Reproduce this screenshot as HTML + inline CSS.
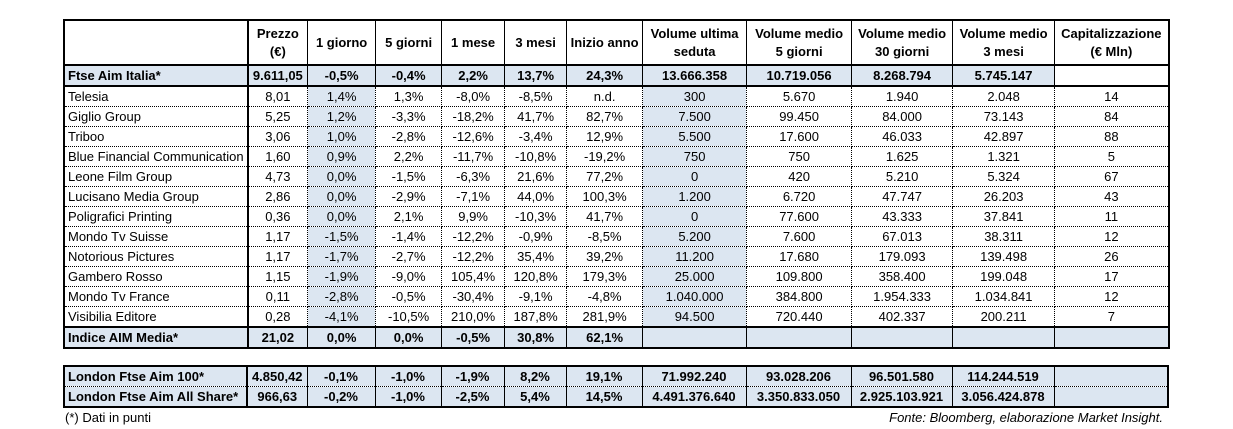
<!DOCTYPE html>
<html><head><meta charset="utf-8">
<style>
html,body{margin:0;padding:0;background:#fff;width:1233px;height:429px;overflow:hidden;position:relative;font-family:"Liberation Sans",Arial,sans-serif;font-size:13px;color:#000}
table{position:absolute;left:63px;border-collapse:collapse;table-layout:fixed}
td{padding:0 3px;height:19px;text-align:center;white-space:nowrap;overflow:hidden;border-left:1px dotted #000;border-right:1px dotted #000;border-top:1px dotted #000;border-bottom:1px dotted #000;line-height:19px}
td:first-child{text-align:left;border-right:2px solid #000;text-overflow:clip}
tr.hdr td{height:43px;line-height:18px;font-weight:bold;border:1px solid #000;border-bottom:2px solid #000}
tr.hdr td:first-child{border-right:2px solid #000}
tr.bold td{font-weight:bold;background:#dce6f1;border-left:1px solid #000;border-right:1px solid #000}
tr.bold td:first-child{border-right:2px solid #000}
tr.thickb td{border-bottom:2px solid #000}
td.sh{background:#dce6f1}
td.wh{background:#fff !important}
#t1,#t2{border:2px solid #000}
#t1{top:19px}
#t2{top:365px}
.note{position:absolute;top:410px;font-size:13px}
</style></head>
<body>
<table id="t1">
<colgroup><col style="width:183px"><col style="width:60px"><col style="width:68px"><col style="width:66px"><col style="width:63px"><col style="width:62px"><col style="width:76px"><col style="width:104px"><col style="width:105px"><col style="width:101px"><col style="width:102px"><col style="width:114px"></colgroup>
<tbody id="b1"></tbody></table>
<table id="t2">
<colgroup><col style="width:183px"><col style="width:60px"><col style="width:68px"><col style="width:66px"><col style="width:63px"><col style="width:62px"><col style="width:76px"><col style="width:104px"><col style="width:105px"><col style="width:101px"><col style="width:102px"><col style="width:114px"></colgroup>
<tbody id="b2"></tbody></table>
<div class="note" style="left:65px">(*) Dati in punti</div>
<div class="note" style="right:70px;font-style:italic">Fonte: Bloomberg, elaborazione Market Insight.</div>
<script>
const headers=["","Prezzo<br>(€)","1 giorno","5 giorni","1 mese","3 mesi","Inizio anno","Volume ultima<br>seduta","Volume medio<br>5 giorni","Volume medio<br>30 giorni","Volume medio<br>3 mesi","Capitalizzazione<br>(€ Mln)"];
const ftse=["Ftse Aim Italia*","9.611,05","-0,5%","-0,4%","2,2%","13,7%","24,3%","13.666.358","10.719.056","8.268.794","5.745.147",""];
const rows=[
["Telesia","8,01","1,4%","1,3%","-8,0%","-8,5%","n.d.","300","5.670","1.940","2.048","14"],
["Giglio Group","5,25","1,2%","-3,3%","-18,2%","41,7%","82,7%","7.500","99.450","84.000","73.143","84"],
["Triboo","3,06","1,0%","-2,8%","-12,6%","-3,4%","12,9%","5.500","17.600","46.033","42.897","88"],
["Blue Financial Communication","1,60","0,9%","2,2%","-11,7%","-10,8%","-19,2%","750","750","1.625","1.321","5"],
["Leone Film Group","4,73","0,0%","-1,5%","-6,3%","21,6%","77,2%","0","420","5.210","5.324","67"],
["Lucisano Media Group","2,86","0,0%","-2,9%","-7,1%","44,0%","100,3%","1.200","6.720","47.747","26.203","43"],
["Poligrafici Printing","0,36","0,0%","2,1%","9,9%","-10,3%","41,7%","0","77.600","43.333","37.841","11"],
["Mondo Tv Suisse","1,17","-1,5%","-1,4%","-12,2%","-0,9%","-8,5%","5.200","7.600","67.013","38.311","12"],
["Notorious Pictures","1,17","-1,7%","-2,7%","-12,2%","35,4%","39,2%","11.200","17.680","179.093","139.498","26"],
["Gambero Rosso","1,15","-1,9%","-9,0%","105,4%","120,8%","179,3%","25.000","109.800","358.400","199.048","17"],
["Mondo Tv France","0,11","-2,8%","-0,5%","-30,4%","-9,1%","-4,8%","1.040.000","384.800","1.954.333","1.034.841","12"],
["Visibilia Editore","0,28","-4,1%","-10,5%","210,0%","187,8%","281,9%","94.500","720.440","402.337","200.211","7"]];
const indice=["Indice AIM Media*","21,02","0,0%","0,0%","-0,5%","30,8%","62,1%","","","","",""];
const london=[
["London Ftse Aim 100*","4.850,42","-0,1%","-1,0%","-1,9%","8,2%","19,1%","71.992.240","93.028.206","96.501.580","114.244.519",""],
["London Ftse Aim All Share*","966,63","-0,2%","-1,0%","-2,5%","5,4%","14,5%","4.491.376.640","3.350.833.050","2.925.103.921","3.056.424.878",""]];
function addRow(body,vals,cls,name,shadeCols,whiteLast){
  const tr=document.createElement('tr');
  
  
  if(cls) tr.className=cls;
  vals.forEach((v,i)=>{
    const td=document.createElement('td');
    
    
    td.innerHTML=v;
    if(shadeCols && (i===2||i===7)) td.classList.add('sh');
    if(whiteLast && i===11) td.classList.add('wh');
    tr.appendChild(td);
  });
  body.appendChild(tr);
}
const b1=document.getElementById('b1'),b2=document.getElementById('b2');
addRow(b1,headers,'hdr','header-row',false,false);
addRow(b1,ftse,'bold thickb','ftse-aim-italia-row',false,true);
rows.forEach((r,i)=>addRow(b1,r,i===rows.length-1?'thickb':'','stock-row',true,false));
addRow(b1,indice,'bold','indice-aim-media-row',false,false);
london.forEach(r=>addRow(b2,r,'bold','london-index-row',false,false));
</script>
</body></html>
